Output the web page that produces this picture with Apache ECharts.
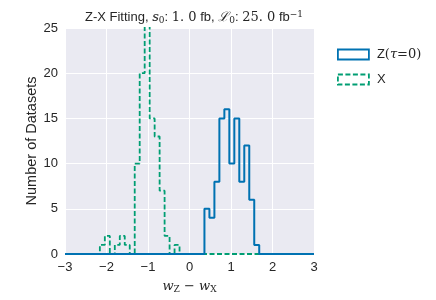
<!DOCTYPE html>
<html><head><meta charset="utf-8">
<script src="https://cdn.jsdelivr.net/npm/echarts@6/dist/echarts.min.js"></script>
<style>html,body{margin:0;padding:0;background:#fff}#c{width:436px;height:300px}</style>
</head><body><div id="c"></div>
<script>
// Histogram binning: 50 bins over [-3, 3]
const binStart = -3;
const binWidth = 0.12;
// Counts per bin (bin k covers [binStart + k*binWidth, binStart + (k+1)*binWidth))
const zCounts = [0,0,0,0,0,0,0,0,0,0, 0,0,0,0,0,0,0,0,0,0, 0,0,0,0,0,0,0,0,5,4, 8,15,16,10,15,8,12,6,1,0, 0,0,0,0,0,0,0,0,0,0];
const xCounts = [0,0,0,0,0,0,0,1,2,0, 1,2,1,0,10,20,26,15,13,7, 2,0,1,0,0,0,0,0,0,0, 0,0,0,0,0,0,0,0,0,0, 0,0,0,0,0,0,0,0,0,0];
const xTicks = [-3,-2,-1,0,1,2,3];
const yTicks = [0,5,10,15,20,25];
const seriesNames = ['Z(τ = 0)', 'X'];

function stepPoints(counts){
  const pts = counts.map((c,k)=>[+(binStart + k*binWidth).toFixed(4), c]);
  pts.push([+(binStart + counts.length*binWidth).toFixed(4), counts[counts.length-1]]);
  return pts;
}
const txt = '#262626';
const serif = 'DejaVu Serif';
const chart = echarts.init(document.getElementById('c'), null, {renderer:'canvas'});
chart.setOption({
  animation:false,
  backgroundColor:'#fff',
  title:{
    text:'{s|Z-X Fitting, }{i|s}{sub|0}{s|: }{m|1. 0}{s| fb, }{c|ℒ}{sub|0}{s|: }{m|25. 0}{s| fb}{sup|−1}',
    left:189, top:5, textAlign:'center',
    textStyle:{
      fontWeight:'normal',
      rich:{
        s:{fontFamily:'Liberation Sans', fontWeight:'normal', fontSize:13, color:txt},
        i:{fontFamily:serif, fontWeight:'normal', fontStyle:'italic', fontSize:13, color:txt},
        m:{fontFamily:serif, fontWeight:'normal', fontSize:13, color:txt},
        c:{fontFamily:serif, fontWeight:'normal', fontStyle:'italic', fontSize:13, color:txt},
        sub:{fontFamily:serif, fontWeight:'normal', fontSize:9, color:txt, verticalAlign:'bottom', padding:[6,0,0,0]},
        sup:{fontFamily:serif, fontWeight:'normal', fontSize:9, color:txt, verticalAlign:'top', padding:[0,0,6,0]}
      }
    }
  },
  legend:{
    orient:'vertical', left:332, top:43, itemWidth:31, itemHeight:10, itemGap:12,
    data:[
      {name:seriesNames[0], icon:'rect', itemStyle:{color:'rgba(0,0,0,0)', borderColor:'#0072B2', borderWidth:1.8}},
      {name:seriesNames[1], icon:'rect', itemStyle:{color:'rgba(0,0,0,0)', borderColor:'#009E73', borderWidth:1.8, borderType:[5,2.5]}}
    ],
    formatter:function(n){ return n===seriesNames[0] ? '{s|Z}{m|(}{i|τ}{m|=0)}' : '{s|X}'; },
    textStyle:{
      padding:[0,0,0,3],
      rich:{
        s:{fontFamily:'Liberation Sans', fontSize:13, color:txt},
        m:{fontFamily:serif, fontSize:13, color:txt},
        i:{fontFamily:serif, fontStyle:'italic', fontSize:13, color:txt}
      }
    }
  },
  grid:{left:65, right:122, top:28, bottom:46, show:true, backgroundColor:'#EAEAF2', borderWidth:0},
  xAxis:{
    type:'value', min:xTicks[0], max:xTicks[xTicks.length-1], interval:1,
    axisLine:{show:false}, axisTick:{show:false},
    splitLine:{show:true, lineStyle:{color:'#fff', width:1}},
    axisLabel:{color:txt, fontFamily:'Liberation Sans', fontSize:13, margin:7,
      formatter:v=>v<0?'−'+Math.abs(v):String(v)},
    name:'{i|w}{sub|Z}{m| − }{i|w}{sub|X}', nameLocation:'middle', nameGap:25, nameMoveOverlap:false,
    nameTextStyle:{rich:{
      i:{fontFamily:serif, fontStyle:'italic', fontSize:13, color:txt},
      m:{fontFamily:serif, fontSize:13, color:txt},
      sub:{fontFamily:serif, fontSize:9, color:txt, verticalAlign:'bottom', padding:[6,0,0,0]}
    }}
  },
  yAxis:{
    type:'value', min:yTicks[0], max:yTicks[yTicks.length-1], interval:5,
    axisLine:{show:false}, axisTick:{show:false},
    splitLine:{show:true, lineStyle:{color:'#fff', width:1}},
    axisLabel:{color:txt, fontFamily:'Liberation Sans', fontSize:13, margin:7},
    name:'Number of Datasets', nameLocation:'middle', nameGap:26, nameMoveOverlap:false,
    nameTextStyle:{color:txt, fontFamily:'Liberation Sans', fontSize:14.5}
  },
  series:[
    {name:seriesNames[1], type:'line', step:'end', data:stepPoints(xCounts), symbol:'none', clip:true, z:2,
      lineStyle:{color:'#009E73', width:1.8, type:[5,2.5]}, itemStyle:{color:'#009E73'}},
    {name:seriesNames[0], type:'line', step:'end', data:stepPoints(zCounts), symbol:'none', clip:true, z:3,
      lineStyle:{color:'#0072B2', width:2}, itemStyle:{color:'#0072B2'}}
  ]
});
</script></body></html>
